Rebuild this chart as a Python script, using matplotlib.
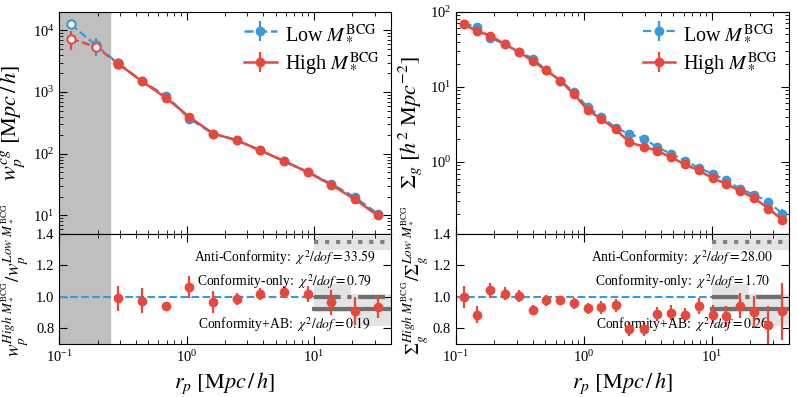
import numpy as np
import matplotlib
matplotlib.use("Agg")
import matplotlib.pyplot as plt

plt.rcParams['font.family'] = ['Liberation Serif', 'DejaVu Serif']
plt.rcParams['mathtext.fontset'] = 'stix'

BLUE = '#3a9ad9'
RED = '#e8483b'

# ---- left: w_p(rp) ----
rp_w = [0.123, 0.194, 0.29, 0.445, 0.69, 1.05, 1.61, 2.48, 3.79, 5.8, 8.9, 13.6, 20.8, 31.6]
wp_low = [12500, 5700, 2900, 1500, 860, 370, 212, 165, 113, 76, 50.5, 32.5, 19.8, 10.6]
wp_low_err = [1500, 1900, 120, 60, 40, 20, 8, 6, 4, 3, 2, 1.5, 1, 0.6]
wp_high = [7300, 5400, 2880, 1490, 800, 394, 212, 165, 113, 76, 50.5, 31.5, 18.4, 10.0]
wp_high_err = [2600, 900, 120, 60, 40, 20, 8, 6, 4, 3, 2, 1.5, 1, 0.6]

ratio_w = [0.99, 0.975, 0.94, 1.06, 0.967, 0.987, 1.017, 1.03, 1.02, 0.965, 0.91, 0.933]
ratio_w_err = [0.08, 0.08, 0.03, 0.07, 0.07, 0.04, 0.04, 0.04, 0.05, 0.08, 0.09, 0.07]

# ---- right: Sigma_g(rp) ----
rp_s = [0.115, 0.146, 0.186, 0.24, 0.309, 0.40, 0.508, 0.654, 0.835, 1.07, 1.37, 1.77,
        2.26, 2.93, 3.74, 4.82, 6.15, 7.9, 10.1, 12.9, 16.7, 21.4, 27.6, 35.5]
sig_low = [69, 63, 45, 37, 29.3, 23.8, 16.6, 12.1, 8.56, 5.36, 3.95, 2.87,
           2.34, 2.05, 1.57, 1.28, 1.04, 0.83, 0.70, 0.57, 0.437, 0.366, 0.295, 0.204]
sig_high = [68, 55, 48, 37, 29.3, 21.9, 16.6, 12.1, 8.0, 4.94, 3.71, 2.72,
            1.83, 1.60, 1.40, 1.15, 0.93, 0.77, 0.61, 0.51, 0.41, 0.33, 0.24, 0.17]
sig_rel_err = [0.04, 0.04, 0.03, 0.03, 0.03, 0.03, 0.03, 0.03, 0.03, 0.03, 0.03, 0.03,
               0.03, 0.03, 0.03, 0.03, 0.04, 0.04, 0.04, 0.05, 0.05, 0.07, 0.1, 0.15]

ratio_s = [1.0, 0.886, 1.044, 1.02, 1.006, 0.918, 0.977, 0.977, 0.96, 0.928, 0.933, 0.945,
           0.796, 0.796, 0.89, 0.9, 0.886, 0.94, 0.886, 0.876, 0.943, 0.903, 0.823, 0.907]
ratio_s_err = [0.07, 0.055, 0.045, 0.04, 0.04, 0.03, 0.035, 0.03, 0.035, 0.035, 0.04, 0.04,
               0.045, 0.045, 0.045, 0.045, 0.045, 0.05, 0.06, 0.065, 0.08, 0.1, 0.12, 0.18]

# model predictions at large scales (rp > 10)
model_x = [10, 40]
anti_w, anti_w_band = 1.35, (1.30, 1.39)
conf_w, conf_w_band = 1.0, (0.905, 1.08)
confab_w, confab_w_band = 0.92, (0.815, 1.02)
anti_s, anti_s_band = 1.35, (1.30, 1.39)
conf_s, conf_s_band = 1.0, (0.905, 1.08)
confab_s, confab_s_band = 0.92, (0.815, 1.02)
box_split = 19.5
chi_w = [33.59, 0.79, 0.19]
chi_s = [28.00, 1.70, 0.26]
model_names = ['Anti-Conformity', 'Conformity-only', 'Conformity+AB']

fig = plt.figure(figsize=(7.97, 3.97), dpi=100)
axL = fig.add_axes([0.0744, 0.4106, 0.4158, 0.56])
axLr = fig.add_axes([0.0744, 0.1335, 0.4158, 0.2771], sharex=axL)
axR = fig.add_axes([0.572, 0.4106, 0.418, 0.56])
axRr = fig.add_axes([0.572, 0.1335, 0.418, 0.2771], sharex=axR)


def style(ax):
    ax.set_xscale('log')
    ax.tick_params(which='both', direction='in', top=True, right=True, labelsize=10.5)
    ax.tick_params(which='major', length=6)
    ax.tick_params(which='minor', length=3)


for ax in (axL, axLr, axR, axRr):
    style(ax)

# ---------- left top ----------
axL.axvspan(0.1, 0.25, color='#bfbfbf', zorder=0)
for y, e, c, ls, lab in [(wp_low, wp_low_err, BLUE, '--', r'Low $M_*^{\rm BCG}$'),
                         (wp_high, wp_high_err, RED, '-', r'High $M_*^{\rm BCG}$')]:
    axL.errorbar(rp_w[:3], y[:3], yerr=e[:3], color=c, ls='--', lw=1.6,
                 marker='o', ms=6, mfc='white', mew=1.5, elinewidth=1.6)
    axL.errorbar(rp_w[2:], y[2:], yerr=e[2:], color=c, ls=ls, lw=1.8,
                 marker='o', ms=6, elinewidth=1.6, label=lab)
axL.set_yscale('log')
axL.set_ylim(5, 2e4)
axL.set_xlim(0.1, 40)
axL.set_ylabel(r'$w_p^{cg}\ [{\rm M}pc\,/\,h]$', fontsize=16)
axL.tick_params(labelbottom=False)
axL.legend(loc='upper right', frameon=False, fontsize=14.5, handlelength=1.6,
           borderaxespad=0.15, labelspacing=0.35, handletextpad=0.4)


def ratio_panel(ax, x, r, err, anti, anti_band, conf, conf_band, cab, cab_band, chis, shade):
    if shade:
        ax.axvspan(0.1, 0.25, color='#bfbfbf', zorder=0)
    ax.fill_between(model_x, *anti_band, color='#d9d9d9', alpha=0.7, lw=0, zorder=1)
    ax.fill_between([model_x[0], box_split], *conf_band, color='#d9d9d9', alpha=0.7, lw=0, zorder=1)
    ax.fill_between([box_split, model_x[1]], *cab_band, color='#d9d9d9', alpha=0.7, lw=0, zorder=1)
    ax.plot(model_x, [anti, anti], color='#808080', ls=':', lw=3, zorder=2)
    ax.plot(model_x, [conf, conf], color='#707070', ls='-.', lw=3, zorder=2)
    ax.plot(model_x, [cab, cab], color='#707070', ls='-', lw=3, zorder=2)
    ax.axhline(1.0, xmax=np.log10(10 / 0.1) / np.log10(40 / 0.1), color=BLUE, ls='--', lw=1.5, zorder=2)
    ax.errorbar(x, r, yerr=err, color=RED, ls='none', marker='o', ms=6,
                elinewidth=1.6, zorder=3)
    ys = [1.25, 1.097, 0.823]
    for name, chi, yy in zip(model_names, chis, ys):
        ax.text(0.68, yy, r'%s:  $\chi^2/dof = %.2f$' % (name, chi),
                transform=ax.get_yaxis_transform(), ha='center', va='center', fontsize=9.8)
    ax.set_ylim(0.7, 1.4)
    ax.set_yticks([0.8, 1.0, 1.2, 1.4])
    ax.set_xlim(0.1, 40)
    ax.set_xlabel(r'$r_p\ [{\rm M}pc\,/\,h]$', fontsize=16)


ratio_panel(axLr, rp_w[2:], ratio_w, ratio_w_err, anti_w, anti_w_band, conf_w, conf_w_band,
            confab_w, confab_w_band, chi_w, True)
axLr.set_ylabel(r'$w_p^{High\ M_*^{\rm BCG}}/w_p^{Low\ M_*^{\rm BCG}}$', fontsize=13.5)
axLr.yaxis.set_label_coords(-0.085, 0.58)

# ---------- right top ----------
sig_low_err = [v * e for v, e in zip(sig_low, sig_rel_err)]
sig_high_err = [v * e for v, e in zip(sig_high, sig_rel_err)]
axR.errorbar(rp_s, sig_low, yerr=sig_low_err, color=BLUE, ls='--', lw=1.6, marker='o', ms=6,
             elinewidth=1.6, label=r'Low $M_*^{\rm BCG}$')
axR.errorbar(rp_s, sig_high, yerr=sig_high_err, color=RED, ls='-', lw=1.8, marker='o', ms=6,
             elinewidth=1.6, label=r'High $M_*^{\rm BCG}$')
axR.set_yscale('log')
axR.set_ylim(0.11, 100)
axR.set_xlim(0.1, 40)
axR.set_ylabel(r'$\Sigma_g\ [h^2\ {\rm M}pc^{-2}]$', fontsize=16)
axR.tick_params(labelbottom=False)
axR.legend(loc='upper right', frameon=False, fontsize=14.5, handlelength=1.6,
           borderaxespad=0.15, labelspacing=0.35, handletextpad=0.4)

ratio_panel(axRr, rp_s, ratio_s, ratio_s_err, anti_s, anti_s_band, conf_s, conf_s_band,
            confab_s, confab_s_band, chi_s, False)
axRr.set_ylabel(r'$\Sigma_g^{High\ M_*^{\rm BCG}}/\Sigma_g^{Low\ M_*^{\rm BCG}}$', fontsize=13.5)
axRr.yaxis.set_label_coords(-0.075, 0.58)

fig.savefig('out.png', dpi=100)
